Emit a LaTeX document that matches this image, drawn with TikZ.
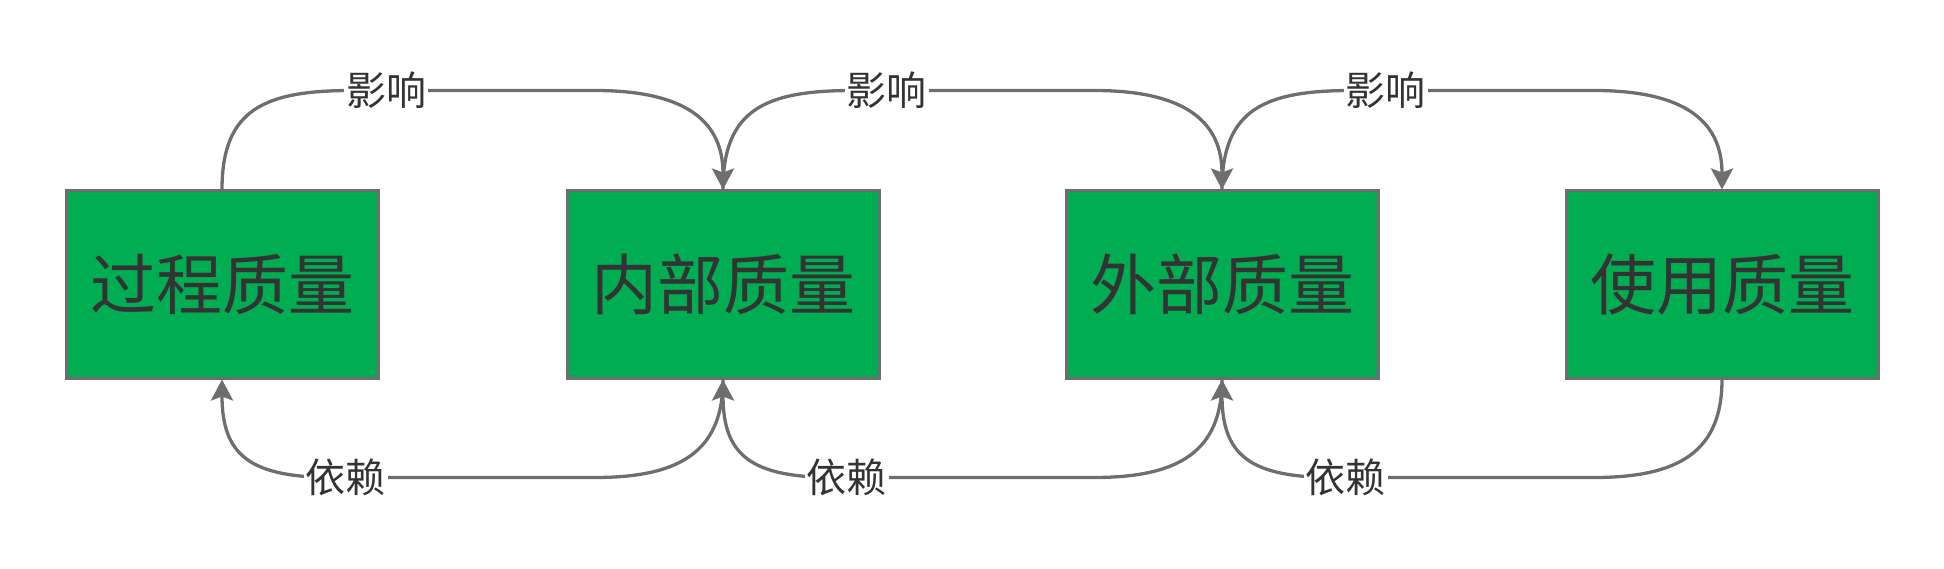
\documentclass[tikz,border=0pt]{standalone}
\usepackage{fontspec}
\newfontfamily\cjk{Noto Sans CJK SC}
\usetikzlibrary{arrows.meta,calc}
\definecolor{boxgreen}{HTML}{00AD53}
\definecolor{edgegray}{HTML}{6E6E6E}
\definecolor{txt}{HTML}{333333}
\tikzset{
  qbox/.style={draw=edgegray, line width=3pt, fill=boxgreen, minimum width=312pt, minimum height=187pt, inner sep=0pt, text=txt, font=\cjk\fontsize{66}{74}\selectfont},
  lbl/.style={fill=white, inner sep=2pt, text=txt, font=\cjk\fontsize{40}{47}\selectfont},
  conn/.style={draw=edgegray, line width=3.3pt},
  arr/.style={conn, -{Stealth[length=21pt,width=22pt,inset=4pt]}}
}
\begin{document}
\begin{tikzpicture}[x=1pt,y=-1pt]
\useasboundingbox (0,0) rectangle (1944,569);
\node[qbox] (b1) at (222,284.5) {过程质量};
\node[qbox] (b2) at (723,284.5) {内部质量};
\node[qbox] (b3) at (1222,284.5) {外部质量};
\node[qbox] (b4) at (1722,284.5) {使用质量};
% top edges
\foreach \a/\b in {b1/b2,b2/b3,b3/b4}{
  \draw[arr] (\a.north) .. controls +(0,-80) and +(-88,0) .. ($(\a.north)+(130,-99)$)
    -- node[lbl,pos=0.14]{影响} ($(\b.north)+(-128,-99)$)
    .. controls +(85,0) and +(0,-72) .. (\b.north);
}
% bottom edges
\foreach \a/\b in {b2/b1,b3/b2,b4/b3}{
  \draw[arr] (\a.south) .. controls +(0,72) and +(85,0) .. ($(\a.south)+(-128,98)$)
    -- node[lbl,pos=0.955]{依赖} ($(\b.south)+(112,98)$)
    .. controls +(-84,0) and +(0,76) .. (\b.south);
}
\end{tikzpicture}
\end{document}
